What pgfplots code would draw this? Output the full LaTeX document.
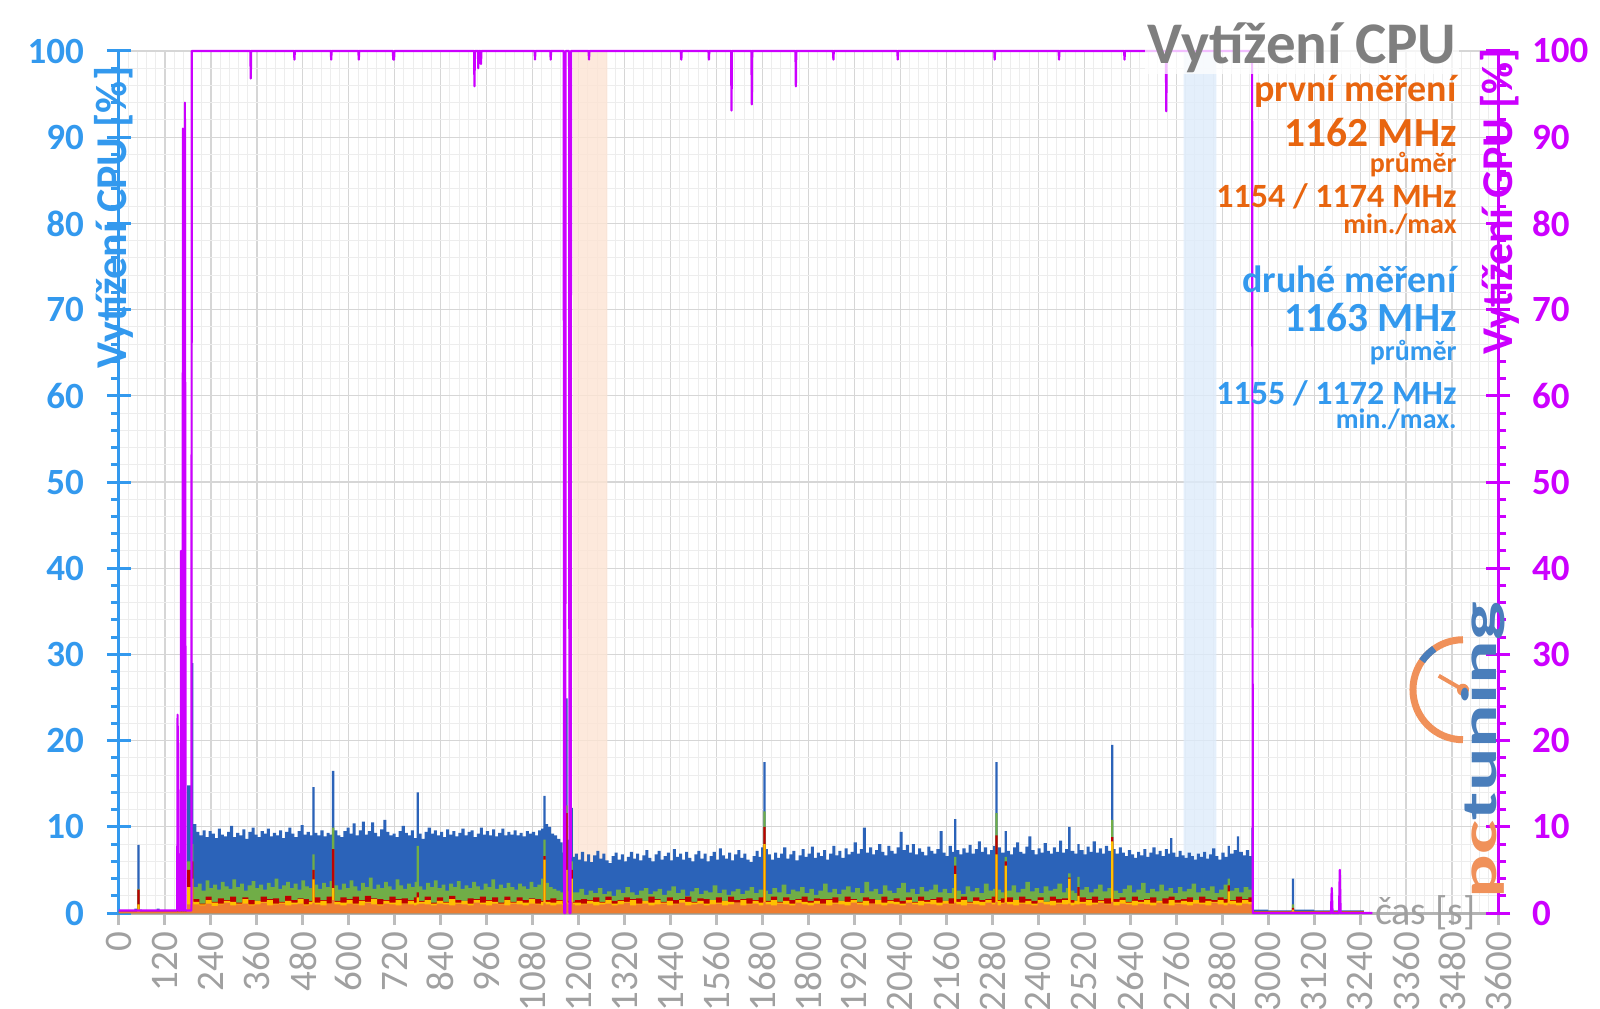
\documentclass[border=0pt]{standalone}
\usepackage{fontspec}
\setmainfont{Carlito}
\usepackage{graphicx}
\usepackage{pgfplots}
\usepackage{pgfplotstable}
\pgfplotsset{compat=1.18}
\definecolor{cpublue}{HTML}{3399EE}
\definecolor{gpumag}{HTML}{CC00FF}
\definecolor{ann}{HTML}{E8650F}
\definecolor{ttl}{HTML}{7F7F7F}
\definecolor{tickgray}{HTML}{A0A0A0}
\definecolor{sBlue}{HTML}{2B63B9}
\definecolor{sGreen}{HTML}{70AD47}
\definecolor{sRed}{HTML}{C00000}
\definecolor{sYellow}{HTML}{FFC000}
\definecolor{sOrange}{HTML}{ED7D31}
\definecolor{bandO}{HTML}{FCE4D3}
\definecolor{bandB}{HTML}{DDEBFA}
\definecolor{gridmaj}{HTML}{D6D6D6}
\definecolor{gridmin}{HTML}{EDEDED}
\definecolor{logoO}{HTML}{F0915A}
\definecolor{logoB}{HTML}{4A7EBB}

\pgfplotstableread{
t v
0 0.3
40 0.5
48 7.9
54 0.4
60 0.3
98 0.5
106 0.3
176 0.3
178 14.8
188 29.0
194 10.3
202 9.4
210 9.0
218 9.6
226 8.8
234 9.5
242 9.2
250 8.7
258 9.8
266 9.1
274 8.9
282 9.4
290 10.1
298 8.8
306 9.3
314 9.0
322 9.7
330 8.6
338 9.4
346 9.9
354 9.1
362 8.8
370 9.5
378 9.2
386 9.8
394 8.9
402 9.3
410 9.0
418 9.6
426 8.7
434 9.4
442 9.9
450 9.2
458 8.8
466 9.5
474 10.2
482 9.1
490 9.4
498 9.0
505 14.6
511 9.3
518 9.0
526 9.6
534 8.9
542 9.3
550 9.1
556 16.5
562 9.6
570 9.0
578 8.8
586 9.5
594 9.9
602 9.2
610 10.4
618 9.0
626 9.6
634 10.6
642 9.1
650 9.5
658 10.5
666 9.3
674 8.9
682 9.7
690 10.8
698 9.4
706 9.0
714 9.2
722 8.8
730 9.5
738 10.1
746 9.3
754 9.0
762 9.6
770 8.7
777 14.0
783 9.2
790 8.6
798 9.4
806 9.9
814 9.2
822 9.6
830 9.0
838 9.4
846 8.8
854 9.7
862 9.1
870 9.5
878 8.9
886 9.3
894 9.8
902 9.0
910 9.4
918 9.6
926 8.8
934 9.2
942 9.9
950 9.1
958 9.5
966 9.0
974 9.7
982 8.9
990 9.3
998 9.8
1006 9.0
1014 9.4
1022 9.1
1030 9.6
1038 9.0
1046 9.3
1054 8.9
1062 9.5
1070 9.2
1078 9.4
1086 9.0
1094 9.6
1102 9.8
1108 13.6
1114 10.3
1120 10.0
1128 9.2
1136 9.0
1144 8.6
1152 8.2
1158 7.0
1162 6.0
1166 24.9
1171 8.5
1176 7.0
1180 12.2
1185 6.5
1190 6.9
1198 6.2
1206 7.1
1214 6.0
1222 6.8
1230 5.9
1238 6.7
1246 7.2
1254 6.3
1262 6.9
1270 6.1
1278 5.8
1286 6.6
1294 7.0
1302 6.2
1310 6.8
1318 6.0
1326 6.5
1334 7.1
1342 6.3
1350 6.9
1358 6.1
1366 6.7
1374 7.3
1382 6.4
1390 6.0
1398 6.8
1406 7.2
1414 6.2
1422 6.6
1430 7.0
1438 6.1
1446 7.4
1454 6.5
1462 6.9
1470 6.2
1478 7.1
1486 6.4
1494 6.0
1502 6.8
1510 7.2
1518 6.3
1526 6.9
1534 6.0
1542 6.6
1550 7.1
1558 6.2
1566 7.5
1574 6.7
1582 6.3
1590 7.0
1598 6.1
1606 6.8
1614 7.3
1622 6.4
1630 6.9
1638 6.2
1646 5.9
1654 6.6
1662 7.2
1670 6.5
1676 7.6
1682 17.5
1688 7.4
1694 6.8
1702 6.2
1710 7.0
1718 6.4
1726 6.9
1734 7.6
1742 6.3
1750 6.8
1758 7.2
1766 6.1
1774 6.7
1782 7.4
1790 6.5
1798 6.9
1806 7.7
1814 6.4
1822 7.0
1830 6.6
1838 7.3
1846 6.2
1854 6.9
1862 7.8
1870 6.7
1878 7.2
1886 6.4
1894 7.5
1902 6.8
1910 7.1
1918 8.2
1926 6.9
1934 7.4
1942 9.9
1950 7.0
1958 7.6
1966 6.8
1974 7.3
1982 8.0
1990 7.1
1998 6.7
2006 7.8
2014 7.2
2022 6.9
2030 7.6
2038 9.4
2046 7.3
2054 7.9
2062 7.0
2070 8.0
2078 6.8
2086 7.5
2094 7.1
2102 6.7
2110 7.7
2118 7.2
2126 6.9
2134 7.4
2142 9.5
2150 7.0
2158 6.6
2166 7.8
2174 7.1
2180 10.9
2186 7.3
2194 6.8
2202 7.5
2210 7.0
2218 7.9
2226 6.9
2234 7.4
2242 8.3
2250 7.1
2258 7.6
2266 6.8
2274 7.3
2282 7.8
2288 17.5
2294 7.6
2302 7.0
2312 9.5
2318 7.2
2326 6.8
2334 7.6
2342 8.2
2350 7.1
2358 6.9
2366 7.7
2374 8.9
2382 7.3
2390 6.8
2398 7.5
2406 7.0
2414 8.1
2422 7.2
2430 6.9
2438 7.6
2446 7.1
2454 8.4
2462 7.0
2470 7.4
2478 10.0
2484 7.2
2494 6.9
2502 8.0
2508 7.3
2518 6.8
2526 7.7
2534 7.1
2542 8.3
2550 7.0
2558 7.5
2566 6.9
2574 7.8
2582 7.2
2590 19.5
2596 7.4
2602 6.9
2610 7.6
2618 7.0
2626 6.6
2634 7.3
2642 6.8
2650 6.4
2658 7.1
2666 6.7
2674 7.4
2682 6.5
2690 7.0
2698 7.6
2706 6.8
2714 7.2
2722 6.6
2730 7.4
2738 6.9
2744 8.7
2750 7.0
2758 6.5
2766 7.2
2774 6.7
2782 6.4
2790 7.0
2798 6.6
2806 6.2
2814 6.9
2822 6.5
2830 7.1
2838 6.3
2846 6.8
2854 7.5
2862 6.6
2870 6.2
2878 7.0
2886 6.5
2894 7.8
2900 6.9
2910 7.3
2918 8.9
2924 7.1
2934 6.7
2942 7.3
2950 6.6
2956 9.9
2960 0.4
3000 0.3
3062 4.0
3068 0.4
3120 0.3
3250 0.3
}\blueT

\pgfplotstableread{
t v
0 0.2
48 2.8
54 0.2
176 0.2
178 6.0
188 8.0
194 3.0
206 3.4
216 2.6
226 3.8
236 2.9
246 3.3
256 2.7
266 3.6
276 3.1
286 2.8
296 3.9
306 3.0
316 3.4
326 2.6
336 3.2
346 3.7
356 2.9
366 3.3
376 2.7
386 3.5
396 3.0
406 4.0
416 2.8
426 3.2
436 3.6
446 2.9
456 3.4
466 2.7
476 3.8
486 3.1
496 2.9
505 6.8
511 3.3
520 2.8
530 3.5
540 3.0
550 3.7
556 9.9
562 3.2
572 2.7
582 3.4
592 2.9
602 3.8
612 3.1
622 2.6
632 3.5
642 3.0
652 4.1
662 2.8
672 3.3
682 2.9
692 3.6
702 3.1
712 2.7
722 3.9
732 3.2
742 2.8
752 3.4
762 3.0
772 3.6
777 7.8
783 3.1
792 2.7
802 3.5
812 3.0
822 3.8
832 2.9
842 3.3
852 2.6
862 3.4
872 3.0
882 3.7
892 2.8
902 3.2
912 2.9
922 3.6
932 3.1
942 2.7
952 3.4
962 3.0
972 3.9
982 2.8
992 3.3
1002 2.9
1012 3.5
1022 3.0
1032 2.7
1042 3.4
1052 3.1
1062 2.8
1072 3.6
1082 3.0
1092 3.3
1102 4.0
1108 8.5
1114 3.5
1122 3.0
1132 2.8
1142 2.6
1152 2.4
1160 2.2
1166 12.5
1171 2.5
1180 6.0
1185 2.4
1190 2.4
1202 2.8
1214 2.1
1226 2.6
1238 2.3
1250 2.9
1262 2.2
1274 2.5
1286 2.0
1298 2.7
1310 2.3
1322 3.0
1334 2.4
1346 2.1
1358 2.6
1370 2.9
1382 2.2
1394 2.5
1406 2.8
1418 2.1
1430 2.6
1442 3.1
1454 2.3
1466 2.7
1478 2.0
1490 2.5
1502 2.9
1514 2.2
1526 2.6
1538 2.4
1550 3.2
1562 2.3
1574 2.7
1586 2.1
1598 2.5
1610 2.8
1622 2.2
1634 2.6
1646 3.0
1658 2.3
1670 2.7
1682 11.8
1688 2.6
1694 2.2
1706 2.9
1718 2.4
1730 3.3
1742 2.2
1754 2.7
1766 2.5
1778 3.0
1790 2.3
1802 2.8
1814 2.1
1826 2.6
1838 3.4
1850 2.4
1862 2.8
1874 2.2
1886 2.7
1898 3.1
1910 2.4
1922 2.9
1934 2.3
1946 3.6
1958 2.5
1970 2.8
1982 2.2
1994 3.2
2006 2.6
2018 2.3
2030 2.9
2042 3.5
2054 2.4
2066 2.8
2078 2.2
2090 3.0
2102 2.5
2114 2.7
2126 3.3
2138 2.4
2150 2.8
2162 2.3
2174 2.9
2180 6.5
2186 2.6
2198 2.2
2210 3.1
2222 2.5
2234 2.9
2246 2.3
2258 3.4
2270 2.6
2282 2.8
2288 11.6
2294 2.7
2302 2.4
2312 6.5
2318 2.6
2330 3.2
2342 2.4
2354 2.8
2366 3.6
2378 2.5
2390 2.9
2402 2.3
2414 3.1
2426 2.6
2438 2.8
2450 3.4
2462 2.4
2472 2.9
2478 4.6
2484 2.6
2494 2.3
2502 4.2
2508 2.7
2520 3.0
2532 2.4
2544 2.8
2556 3.3
2568 2.5
2580 2.9
2590 10.8
2596 2.6
2608 2.3
2620 2.8
2632 3.2
2644 2.4
2656 2.7
2668 3.5
2680 2.3
2692 2.8
2704 2.5
2716 3.3
2728 2.6
2740 2.9
2752 2.3
2764 3.0
2776 2.5
2788 2.8
2800 3.4
2812 2.4
2824 2.9
2836 2.6
2848 3.1
2860 2.3
2872 2.7
2884 3.3
2894 4.0
2900 2.6
2912 2.9
2924 2.4
2936 3.0
2948 2.7
2960 0.2
3062 1.0
3068 0.2
3250 0.2
}\greenT

\pgfplotstableread{
t o y r
0 0.1 0.15 0.2
48 0.2 1.0 2.7
54 0.1 0.15 0.2
176 0.1 0.15 0.2
178 1.0 3.0 5.0
188 1.2 4.0 6.0
194 1.0 1.3 1.6
210 0.9 1.0 1.1
226 1.1 1.5 1.9
242 0.8 1.2 1.3
258 1.0 1.1 1.7
274 1.2 1.4 1.5
290 0.9 1.3 1.9
306 1.0 1.1 1.2
322 1.1 1.6 1.8
338 0.9 1.0 1.5
354 1.0 1.4 1.4
370 1.2 1.3 1.9
386 0.9 1.5 1.6
402 1.0 1.1 1.7
418 1.1 1.2 1.3
434 0.9 1.4 2.0
450 1.0 1.2 1.5
466 1.1 1.6 1.7
482 0.9 1.0 1.6
496 1.0 1.3 1.4
505 1.2 3.9 5.0
511 1.0 1.2 1.8
526 0.9 1.4 1.5
542 1.1 1.1 1.9
556 1.5 2.9 7.4
562 1.0 1.3 1.4
578 0.9 1.2 1.8
594 1.1 1.5 1.6
610 1.0 1.1 1.9
626 0.9 1.4 1.5
642 1.2 1.3 2.0
658 1.0 1.6 1.7
674 0.9 1.0 1.6
690 1.1 1.4 1.5
706 1.0 1.2 1.9
722 0.9 1.5 1.6
738 1.1 1.1 1.7
754 1.0 1.4 1.5
770 0.9 1.2 1.8
777 1.0 1.8 2.4
783 1.1 1.3 1.4
798 1.0 1.5 1.9
814 0.9 1.1 1.2
830 1.1 1.4 1.8
846 1.0 1.2 1.3
862 0.9 1.6 2.0
878 1.1 1.2 1.5
894 1.0 1.4 1.4
910 0.9 1.1 1.7
926 1.2 1.5 1.6
942 1.0 1.2 1.9
958 0.9 1.4 1.5
974 1.1 1.3 1.8
990 1.0 1.1 1.2
1006 0.9 1.5 1.9
1022 1.1 1.2 1.3
1038 1.0 1.4 1.8
1054 0.9 1.2 1.5
1070 1.1 1.6 1.7
1086 1.0 1.1 1.6
1102 0.9 1.3 1.4
1108 1.2 6.2 6.6
1114 1.0 1.3 1.5
1126 0.9 1.2 1.7
1142 1.0 1.4 1.5
1158 0.9 1.1 1.3
1166 1.2 5.0 11.6
1171 1.0 1.2 1.4
1180 1.3 4.0 5.0
1185 1.0 1.2 1.3
1190 0.9 1.2 1.5
1206 1.0 1.1 1.6
1222 1.1 1.4 1.5
1238 0.9 1.3 1.8
1254 1.0 1.2 1.3
1270 1.1 1.5 1.9
1286 0.9 1.1 1.4
1302 1.0 1.4 1.5
1318 1.2 1.3 1.8
1334 0.9 1.5 1.6
1350 1.0 1.1 1.7
1366 1.1 1.4 1.4
1382 0.9 1.2 1.9
1398 1.0 1.5 1.6
1414 1.1 1.2 1.3
1430 0.9 1.4 1.8
1446 1.0 1.1 1.5
1462 1.2 1.5 1.6
1478 0.9 1.3 1.9
1494 1.0 1.2 1.3
1510 1.1 1.4 1.7
1526 0.9 1.1 1.6
1542 1.0 1.5 1.5
1558 1.1 1.2 1.8
1574 0.9 1.4 1.4
1590 1.0 1.3 1.9
1606 1.2 1.2 1.5
1622 0.9 1.5 1.6
1638 1.0 1.1 1.7
1654 1.1 1.4 1.5
1670 0.9 1.2 1.8
1682 1.3 8.0 10.0
1688 1.0 1.3 1.4
1702 0.9 1.5 1.9
1718 1.1 1.2 1.3
1734 1.0 1.4 1.8
1750 0.9 1.1 1.5
1766 1.2 1.5 1.6
1782 1.0 1.3 1.9
1798 0.9 1.2 1.4
1814 1.1 1.4 1.7
1830 1.0 1.1 1.6
1846 0.9 1.5 1.6
1862 1.1 1.2 1.8
1878 1.0 1.4 1.4
1894 0.9 1.3 1.9
1910 1.2 1.5 1.6
1926 1.0 1.2 1.3
1942 0.9 1.4 1.8
1958 1.1 1.1 1.6
1974 1.0 1.5 1.5
1990 0.9 1.2 1.9
2006 1.1 1.4 1.5
2022 1.0 1.3 1.7
2038 0.9 1.1 1.4
2054 1.2 1.5 1.8
2070 1.0 1.2 1.3
2086 0.9 1.4 1.9
2102 1.1 1.3 1.5
2118 1.0 1.5 1.6
2134 0.9 1.2 1.8
2150 1.1 1.4 1.4
2166 1.0 1.1 1.7
2180 1.2 4.5 5.5
2186 1.0 1.3 1.6
2198 0.9 1.5 1.9
2214 1.1 1.2 1.3
2230 1.0 1.4 1.8
2246 0.9 1.3 1.5
2262 1.2 1.5 1.6
2278 1.0 1.2 1.9
2288 1.3 6.8 9.0
2294 0.9 1.4 1.5
2302 1.1 1.2 1.7
2312 1.2 5.5 6.0
2318 1.0 1.3 1.8
2334 0.9 1.5 1.5
2350 1.1 1.2 1.9
2366 1.0 1.4 1.6
2382 0.9 1.1 1.4
2398 1.2 1.5 1.8
2414 1.0 1.3 1.3
2430 0.9 1.4 1.9
2446 1.1 1.2 1.6
2462 1.0 1.5 1.7
2478 1.1 4.0 4.1
2484 0.9 1.2 1.5
2494 1.0 1.4 1.4
2502 1.0 2.0 3.0
2508 1.1 1.3 1.8
2524 0.9 1.5 1.6
2540 1.0 1.2 1.9
2556 1.2 1.4 1.5
2572 1.0 1.1 1.7
2590 1.3 8.3 8.8
2596 0.9 1.3 1.6
2612 1.1 1.5 1.8
2628 1.0 1.2 1.3
2644 0.9 1.4 1.9
2660 1.1 1.3 1.5
2676 1.0 1.5 1.6
2692 0.9 1.2 1.8
2708 1.2 1.4 1.4
2724 1.0 1.1 1.7
2740 0.9 1.5 1.9
2756 1.1 1.2 1.5
2772 1.0 1.4 1.6
2788 0.9 1.3 1.8
2804 1.1 1.5 1.5
2820 1.0 1.2 1.9
2836 0.9 1.4 1.6
2852 1.2 1.3 1.5
2868 1.0 1.5 1.8
2884 0.9 1.2 1.6
2894 1.1 2.5 3.2
2900 1.0 1.4 1.5
2916 0.9 1.2 1.9
2932 1.1 1.5 1.6
2948 1.0 1.3 1.8
2960 0.1 0.15 0.2
3062 0.2 0.4 0.6
3068 0.1 0.15 0.2
3250 0.1 0.15 0.2
}\lowT

\begin{document}
\begin{tikzpicture}
\useasboundingbox (-59.5pt,-47.5pt) rectangle (740.5pt,456.5pt);
\pgfplotsset{base/.style={at={(0,0)},anchor=south west,width=689.5pt,height=431pt,
  scale only axis,xmin=0,xmax=3600,ymin=0,ymax=100,
  /pgf/number format/assume math mode=true,/pgf/number format/1000 sep={}}}
% background: grid and bands
\begin{axis}[base,
  axis line style={draw=none},
  xtick={0,120,...,3600}, ytick={0,10,...,100},
  minor x tick num=4, minor y tick num=4,
  major tick length=0pt, minor tick length=0pt,
  xticklabels={}, yticklabels={},
  grid=both,
  major grid style={draw=gridmaj, line width=0.6pt},
  minor grid style={draw=gridmin, line width=0.5pt}]
\addplot[fill=bandO, draw=none, fill opacity=0.8] coordinates {(1185,0)(1185,100)(1275,100)(1275,0)} \closedcycle;
\addplot[fill=bandB, draw=none, fill opacity=0.8] coordinates {(2779,0)(2779,100)(2865,100)(2865,0)} \closedcycle;
\end{axis}
% CPU data, left axis, x axis
\begin{axis}[base,
  axis x line*=bottom, axis y line*=left,
  x axis line style={draw=tickgray!80, line width=1.5pt, -},
  y axis line style={draw=cpublue, line width=1.5pt, -},
  xtick={0,120,...,3600}, ytick={0,10,...,100},
  minor y tick num=4,
  tick align=outside, major tick length=6pt, minor tick length=4pt,
  x tick style={draw=tickgray!70, line width=1.5pt},
  y tick style={draw=cpublue, line width=1.5pt},
  extra y ticks={0,10,20,30,40,50,60,70,80,90,100},
  extra y tick labels={},
  extra y tick style={tick align=inside},
  xticklabel style={rotate=90, anchor=east, font=\fontsize{19.5}{19.5}\selectfont, text=tickgray},
  yticklabel style={font=\fontsize{18.5}{18.5}\selectfont\bfseries, text=cpublue, xshift=-8pt}]
\addplot[const plot, fill=sBlue, draw=none] table[x=t,y=v] {\blueT} \closedcycle;
\addplot[const plot, fill=sGreen, draw=none] table[x=t,y=v] {\greenT} \closedcycle;
\addplot[const plot, fill=sRed, draw=none] table[x=t,y=r] {\lowT} \closedcycle;
\addplot[const plot, fill=sYellow, draw=none] table[x=t,y=y] {\lowT} \closedcycle;
\addplot[const plot, fill=sOrange, draw=none] table[x=t,y=o] {\lowT} \closedcycle;
\end{axis}
% GPU, right axis, texts
\begin{axis}[base, clip=false,
  axis x line=none, axis y line*=right,
  y axis line style={draw=gpumag, line width=1.5pt, -},
  ytick={0,10,...,100}, minor y tick num=4,
  tick align=outside, major tick length=6pt, minor tick length=4pt,
  y tick style={draw=gpumag, line width=1.5pt},
  extra y ticks={0,10,20,30,40,50,60,70,80,90,100},
  extra y tick labels={},
  extra y tick style={tick align=inside},
  yticklabel style={font=\fontsize{18.5}{18.5}\selectfont\bfseries, text=gpumag, xshift=7.5pt}]
\addplot[gpumag, line width=1.1pt, line join=round] coordinates {
(0,0.3)(152,0.3)(153,23)(155,0.3)(161,0.3)(162,42)(164,0.3)(166,0.3)(167,91)(169,0.3)(171,0.3)(172,94)(174,0.3)(189,0.3)(190,100)
(343,100)(344,96.8)(345,100)(457,100)(458,99)(459,100)(553,100)(554,99)(555,100)
(625,100)(626,99)(627,100)(715,100)(716,99)(718,99)(719,100)
(927,100)(928,95.9)(929,100)(937,100)(938,98)(939,100)(944,100)(945,98.5)(946,100)
(1085,100)(1086,99)(1087,100)(1126,100)(1127,99)(1128,100)
(1161,100)(1162,0)(1165,0)(1166,100)(1175,100)(1176,0)(1179,0)(1180,100)
(1226,100)(1227,99)(1228,100)(1467,100)(1468,99)(1469,100)(1539,100)(1540,99)(1541,100)
(1598,100)(1599,93.1)(1600,100)(1651,100)(1652,93.8)(1653,100)(1766,100)(1767,95.9)(1768,100)
(1864,100)(1865,99)(1866,100)(2032,100)(2033,99)(2034,100)(2285,100)(2286,99)(2287,100)
(2453,100)(2454,99)(2455,100)(2624,100)(2625,99)(2626,100)(2733,100)(2734,93)(2735,100)
(2958,100)(2960,0)(3164,0)(3166,2.9)(3168,0)(3185,0)(3187,5.0)(3189,0)(3272,0)};
% logo
\draw[logoO, line width=3.5pt] (rel axis cs:0.9746,0.259) ++(0,25pt) arc[start angle=90, end angle=270, radius=25pt];
\draw[logoB, line width=3.5pt] (rel axis cs:0.9746,0.259) ++(125:25pt) arc[start angle=125, end angle=145, radius=25pt];
\draw[logoO, line width=2pt] (rel axis cs:0.9746,0.259) -- ++(150:14pt);
\fill[logoO] (rel axis cs:0.9746,0.259) circle (3pt);
\node[rotate=90, anchor=center, inner sep=0pt] at (rel axis cs:0.989,0.189) {\scalebox{1.63}[1]{\fontsize{25}{25}\selectfont\bfseries\textcolor{logoO}{pc}\textcolor{logoB}{tuning}}};
% labels
\node[rotate=90, font=\fontsize{22}{22}\selectfont\bfseries, text=cpublue] at (rel axis cs:-0.004,0.807) {Vytížení CPU [\%]};
\node[rotate=90, font=\fontsize{22}{22}\selectfont\bfseries, text=gpumag] at (rel axis cs:1.0015,0.826) {Vytížení GPU [\%]};
\node[anchor=east, font=\fontsize{20}{20}\selectfont, text=tickgray, inner sep=1pt] at (rel axis cs:0.9855,0) {čas [s]};
% title and annotations
\node[anchor=base east, font=\fontsize{29.5}{29.5}\selectfont\bfseries, text=ttl, fill=white, fill opacity=0.75, text opacity=1, inner sep=1pt] at (rel axis cs:0.9717,0.986) {Vytížení CPU};
\node[anchor=base east, font=\fontsize{19}{19}\selectfont\bfseries, text=ann, inner sep=0pt] at (rel axis cs:0.9703,0.941) {první měření};
\node[anchor=base east, font=\fontsize{20.7}{20.7}\selectfont\bfseries, text=ann, inner sep=0pt] at (rel axis cs:0.9703,0.889) {1162 MHz};
\node[anchor=base east, font=\fontsize{14}{14}\selectfont\bfseries, text=ann, inner sep=0pt] at (rel axis cs:0.9703,0.859) {průměr};
\node[anchor=base east, font=\fontsize{17}{17}\selectfont\bfseries, text=ann, inner sep=0pt] at (rel axis cs:0.9703,0.819) {1154 / 1174 MHz};
\node[anchor=base east, font=\fontsize{14}{14}\selectfont\bfseries, text=ann, inner sep=0pt] at (rel axis cs:0.9703,0.788) {min./max};
\node[anchor=base east, font=\fontsize{19}{19}\selectfont\bfseries, text=cpublue, inner sep=0pt] at (rel axis cs:0.9703,0.720) {druhé měření};
\node[anchor=base east, font=\fontsize{20.7}{20.7}\selectfont\bfseries, text=cpublue, inner sep=0pt] at (rel axis cs:0.9703,0.675) {1163 MHz};
\node[anchor=base east, font=\fontsize{14}{14}\selectfont\bfseries, text=cpublue, inner sep=0pt] at (rel axis cs:0.9703,0.641) {průměr};
\node[anchor=base east, font=\fontsize{17}{17}\selectfont\bfseries, text=cpublue, inner sep=0pt] at (rel axis cs:0.9703,0.590) {1155 / 1172 MHz};
\node[anchor=base east, font=\fontsize{14}{14}\selectfont\bfseries, text=cpublue, inner sep=0pt] at (rel axis cs:0.9703,0.562) {min./max.};
\end{axis}
\end{tikzpicture}
\end{document}
